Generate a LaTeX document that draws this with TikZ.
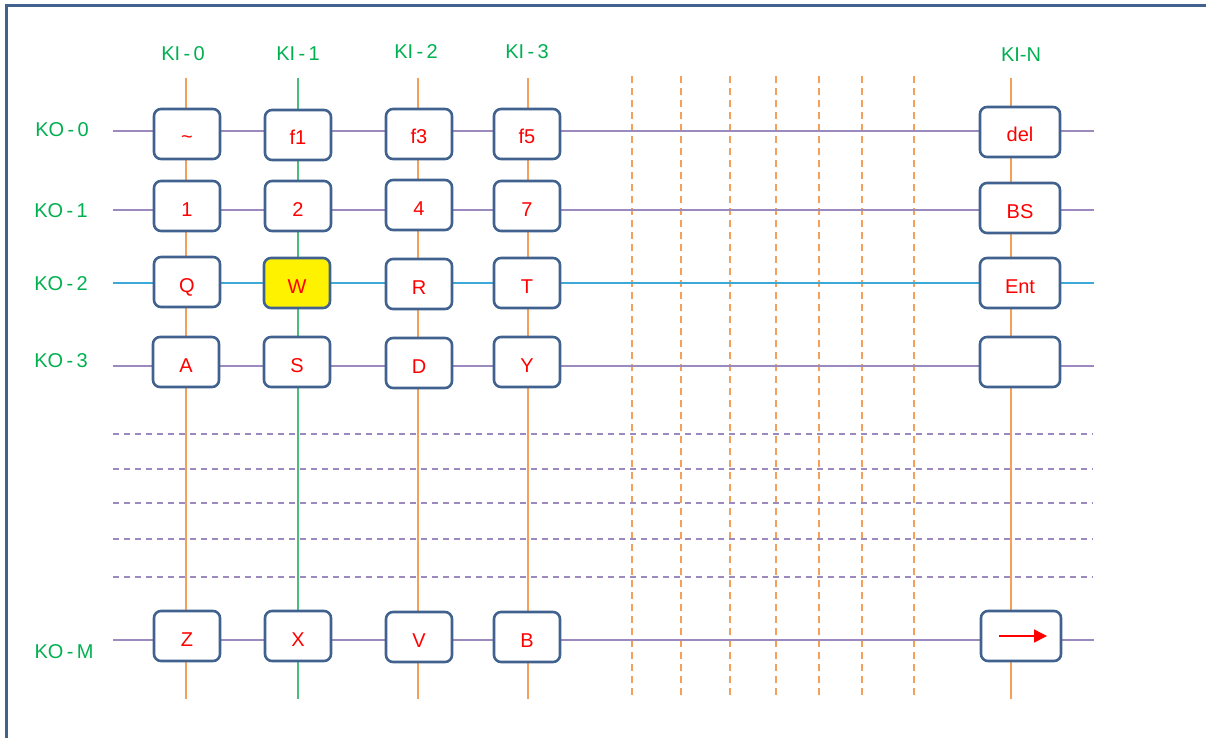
\documentclass[tikz,border=0pt]{standalone}
\usepackage{fontspec}
\setmainfont{Liberation Sans}
\usetikzlibrary{arrows.meta}
\definecolor{lblgreen}{HTML}{00B050}
\definecolor{boxblue}{HTML}{41628F}
\definecolor{lineorange}{HTML}{F5A05A}
\definecolor{linepurple}{HTML}{9C89BE}
\definecolor{lineblue}{HTML}{3DA9D9}
\definecolor{linegreen}{HTML}{4DBB7A}
\definecolor{keyred}{HTML}{FF0000}
\tikzset{
  key/.style={draw=boxblue, line width=2.6pt, rounded corners=7pt, fill=white,
    minimum width=66pt, minimum height=50pt, inner sep=0pt, text=keyred,
    text height=20pt, text depth=0pt, font=\fontsize{20}{20}\selectfont},
  widekey/.style={key, minimum width=80pt},
  lbl/.style={text=lblgreen, font=\fontsize{20}{20}\selectfont, inner sep=0pt},
  rowline/.style={draw=linepurple, line width=1.4pt},
  colline/.style={draw=lineorange, line width=1.4pt},
  dashrow/.style={draw=linepurple, line width=1.1pt, dash pattern=on 6pt off 5pt},
  dashcol/.style={draw=lineorange, line width=1.1pt, dash pattern=on 7pt off 5pt},
}
\begin{document}
\begin{tikzpicture}[x=1pt,y=-1pt]
\useasboundingbox (0,0) rectangle (1206,738);
\begin{scope}
\clip (0,0) rectangle (1206,738);
\draw[boxblue, line width=2.5pt] (6.5,5.5) rectangle (1220,750);
\end{scope}

% dashed vertical guides
\foreach \x [count=\i] in {632,681,730,776,819,862,914} {
  \coordinate (dvt\i) at (\x,76);
  \coordinate (dvb\i) at (\x,697);
  \draw[dashcol] (dvt\i) -- (dvb\i);
}
% dashed horizontal guides
\foreach \y [count=\i] in {434,469,503,539,577} {
  \coordinate (dhl\i) at (113,\y);
  \coordinate (dhr\i) at (1093,\y);
  \draw[dashrow] (dhl\i) -- (dhr\i);
}

% row lines
\coordinate (r0l) at (113,131); \coordinate (r0r) at (1094,131);
\coordinate (r1l) at (113,210); \coordinate (r1r) at (1094,210);
\coordinate (r2l) at (113,283); \coordinate (r2r) at (1094,283);
\coordinate (r3l) at (113,366); \coordinate (r3r) at (1094,366);
\coordinate (rml) at (113,640); \coordinate (rmr) at (1094,640);
\draw[rowline] (r0l) -- (r0r);
\draw[rowline] (r1l) -- (r1r);
\draw[rowline, draw=lineblue] (r2l) -- (r2r);
\draw[rowline] (r3l) -- (r3r);
\draw[rowline] (rml) -- (rmr);

% column lines
\coordinate (c0t) at (186,78);  \coordinate (c0b) at (186,699);
\coordinate (c1t) at (298,78);  \coordinate (c1b) at (298,699);
\coordinate (c2t) at (418,78);  \coordinate (c2b) at (418,699);
\coordinate (c3t) at (528,78);  \coordinate (c3b) at (528,699);
\coordinate (cnt) at (1011,78); \coordinate (cnb) at (1011,699);
\draw[colline] (c0t) -- (c0b);
\draw[colline, draw=linegreen] (c1t) -- (c1b);
\draw[colline] (c2t) -- (c2b);
\draw[colline] (c3t) -- (c3b);
\draw[colline] (cnt) -- (cnb);

% labels
\node[lbl] (ki0) at (183,54) {KI\,-\,0};
\node[lbl] (ki1) at (298,54) {KI\,-\,1};
\node[lbl] (ki2) at (416,52) {KI\,-\,2};
\node[lbl] (ki3) at (527,52) {KI\,-\,3};
\node[lbl] (kin) at (1021,55) {KI-N};
\node[lbl] (ko0) at (62,130) {KO\,-\,0};
\node[lbl] (ko1) at (61,211) {KO\,-\,1};
\node[lbl] (ko2) at (61,284) {KO\,-\,2};
\node[lbl] (ko3) at (61,361) {KO\,-\,3};
\node[lbl] (kom) at (64,652) {KO\,-\,M};

% keys row 0
\node[key] (k00) at (187,134) {\textasciitilde};
\node[key] (k01) at (298,135) {f1};
\node[key] (k02) at (419,134) {f3};
\node[key] (k03) at (527,134) {f5};
\node[widekey] (k0n) at (1020,132) {del};
% row 1
\node[key] (k10) at (187,206) {1};
\node[key] (k11) at (298,206) {2};
\node[key] (k12) at (419,205) {4};
\node[key] (k13) at (527,206) {7};
\node[widekey] (k1n) at (1020,208) {BS};
% row 2
\node[key] (k20) at (187,282) {Q};
\node[key, fill=yellow] (k21) at (297,283) {W};
\node[key] (k22) at (419,284) {R};
\node[key] (k23) at (527,283) {T};
\node[widekey] (k2n) at (1020,283) {Ent};
% row 3
\node[key] (k30) at (186,362) {A};
\node[key] (k31) at (297,362) {S};
\node[key] (k32) at (419,363) {D};
\node[key] (k33) at (527,362) {Y};
\node[widekey] (k3n) at (1020,362) {};
% row M
\node[key] (km0) at (187,636) {Z};
\node[key] (km1) at (298,636) {X};
\node[key] (km2) at (419,637) {V};
\node[key] (km3) at (527,637) {B};
\node[widekey] (kmn) at (1021,636) {};
\coordinate (arrs) at ([xshift=-22pt]kmn.center);
\coordinate (arre) at ([xshift=26pt]kmn.center);
\draw[keyred, line width=1.4pt, -{Triangle[length=13pt,width=13pt]}] (arrs) -- (arre);
\end{tikzpicture}
\end{document}
